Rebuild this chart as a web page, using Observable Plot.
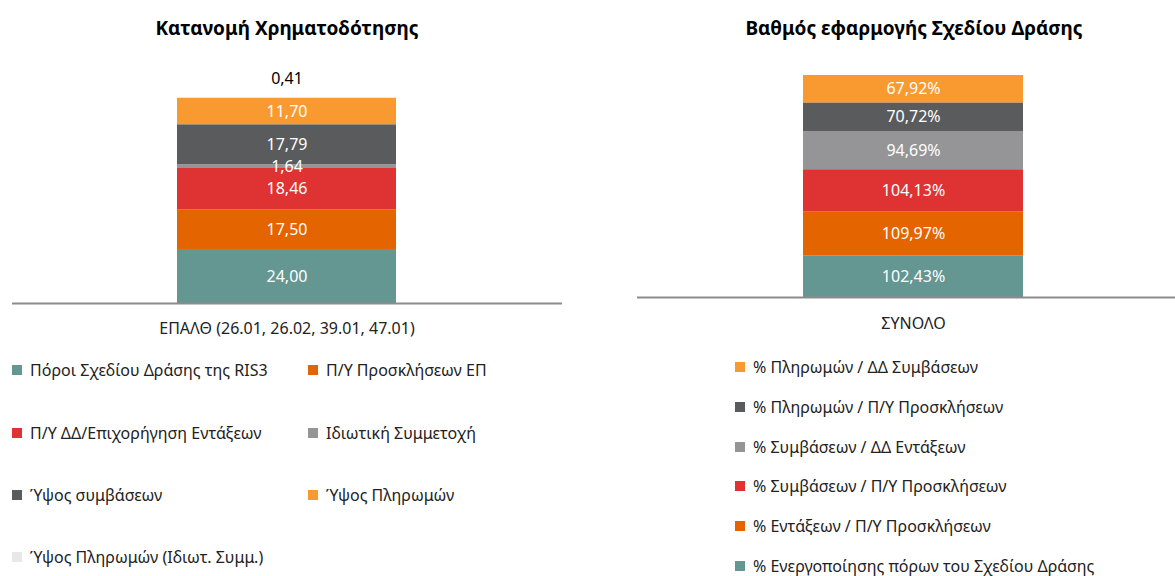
<!DOCTYPE html>
<html><head><meta charset="utf-8">
<script src="https://cdn.jsdelivr.net/npm/d3@7"></script>
<script src="https://cdn.jsdelivr.net/npm/@observablehq/plot@0.6"></script>
<style>
html,body{margin:0;padding:0;background:#fff;overflow:hidden;width:1175px;height:576px;font-family:"Noto Sans",sans-serif;}
#page{position:relative;width:1175px;height:576px;}
.title{position:absolute;font-weight:bold;font-size:19px;color:#000;white-space:nowrap;transform:translate(-50%,-50%);}
.chart{position:absolute;}
.leg{position:absolute;font-size:16px;line-height:18px;color:#222;white-space:nowrap;display:flex;align-items:center;transform:translateY(-50%);}
.leg span.sw{display:inline-block;width:10px;height:10px;margin-right:8px;}
</style></head>
<body><div id="page"></div>
<script>
// ---- Left chart data
const leftCategory = "ΕΠΑΛΘ (26.01, 26.02, 39.01, 47.01)";
const leftSeries = ["Πόροι Σχεδίου Δράσης της RIS3","Π/Υ Προσκλήσεων ΕΠ","Π/Υ ΔΔ/Επιχορήγηση Εντάξεων","Ιδιωτική Συμμετοχή","Ύψος συμβάσεων","Ύψος Πληρωμών","Ύψος Πληρωμών (Ιδιωτ. Συμμ.)"];
const leftValues = [24.00, 17.50, 18.46, 1.64, 17.79, 11.70, 0.41];
const leftColors = ["#649692","#e46400","#de3233","#959598","#5a5b5d","#f89a2f","#e8e8e8"];
const leftTitle = "Κατανομή Χρηματοδότησης";

// ---- Right chart data
const rightCategory = "ΣΥΝΟΛΟ";
const rightSeries = ["% Ενεργοποίησης πόρων του Σχεδίου Δράσης","% Εντάξεων / Π/Υ Προσκλήσεων","% Συμβάσεων / Π/Υ Προσκλήσεων","% Συμβάσεων / ΔΔ Εντάξεων","% Πληρωμών / Π/Υ Προσκλήσεων","% Πληρωμών / ΔΔ Συμβάσεων"];
const rightValues = [102.43, 109.97, 104.13, 94.69, 70.72, 67.92];
const rightColors = ["#649692","#e46400","#de3233","#959598","#5a5b5d","#f89a2f"];
const rightTitle = "Βαθμός εφαρμογής Σχεδίου Δράσης";

const fmt = v => d3.format(".2f")(v).replace(".", ",");
const font = '"Noto Sans", sans-serif';
const page = document.getElementById("page");

function addTitle(text, cx, cy){
  const d = document.createElement("div");
  d.className = "title"; d.textContent = text;
  d.style.left = cx + "px"; d.style.top = cy + "px";
  page.appendChild(d);
}

// Left
const leftData = leftSeries.map((s,i)=>({cat:leftCategory, series:s, value:leftValues[i], idx:i}));
const leftTotal = d3.sum(leftValues);
const lastIdx = leftValues.length - 1;
const leftPlot = Plot.plot({
  width: 575, height: 300,
  marginLeft: 12, marginRight: 13, marginTop: 47, marginBottom: 47,
  style: {fontFamily: font, fontSize: "16px", background: "transparent"},
  x: {domain:[leftCategory], padding: 0.4286, label: null},
  y: {domain:[0, leftTotal], axis: null},
  color: {domain: leftSeries, range: leftColors},
  marks: [
    Plot.barY(leftData, {x:"cat", y:"value", fill:"series", order:null}),
    Plot.ruleY([0], {stroke:"#8c8c8c", strokeWidth:2}),
    Plot.text(leftData.filter(d=>d.idx!==lastIdx), Plot.stackY({x:"cat", y:"value", order:null, text:d=>fmt(d.value), fill:"#fff", fontSize:16})),
    Plot.text(leftData.filter(d=>d.idx===lastIdx), {x:"cat", y:()=>leftTotal, text:d=>fmt(d.value), fill:"#000", fontSize:16, dy:-19}),
    Plot.axisX({tickSize:0, tickPadding:19, fontSize:16, fill:"#222", label:null})
  ]
});
leftPlot.classList.add("chart");
leftPlot.style.left = "0px"; leftPlot.style.top = "50px";
page.appendChild(leftPlot);
addTitle(leftTitle, 287, 28);

// Right
const rightData = rightSeries.map((s,i)=>({cat:rightCategory, series:s, value:rightValues[i]}));
const rightPlot = Plot.plot({
  width: 600, height: 300,
  marginLeft: 47, marginRight: 0, marginTop: 25, marginBottom: 53,
  style: {fontFamily: font, fontSize: "16px", background: "transparent"},
  x: {domain:[rightCategory], padding: 0.429, label: null},
  y: {domain:[0, d3.sum(rightValues)], axis: null},
  color: {domain: rightSeries, range: rightColors},
  marks: [
    Plot.barY(rightData, {x:"cat", y:"value", fill:"series", order:null}),
    Plot.ruleY([0], {stroke:"#8c8c8c", strokeWidth:2}),
    Plot.text(rightData, Plot.stackY({x:"cat", y:"value", order:null, text:d=>fmt(d.value)+"%", fill:"#fff", fontSize:16})),
    Plot.axisX({tickSize:0, tickPadding:20, fontSize:16, fill:"#222", label:null})
  ]
});
rightPlot.classList.add("chart");
rightPlot.style.left = "590px"; rightPlot.style.top = "50px";
page.appendChild(rightPlot);
addTitle(rightTitle, 914, 28);

// Legends
function addLegend(label, color, x, y){
  const d = document.createElement("div");
  d.className = "leg";
  d.style.left = x + "px"; d.style.top = y + "px";
  const sw = document.createElement("span"); sw.className = "sw"; sw.style.background = color;
  d.appendChild(sw);
  d.appendChild(document.createTextNode(label));
  page.appendChild(d);
}
const leftRows = [370, 433, 495, 557];
leftSeries.forEach((s,i)=>{
  const col = i % 2, row = Math.floor(i/2);
  addLegend(s, leftColors[i], col ? 308 : 12, leftRows[row]);
});
const rightOrder = d3.range(rightSeries.length).reverse();
rightOrder.forEach((i,k)=>{
  addLegend(rightSeries[i], rightColors[i], 735, 367 + 39.8*k);
});
</script></body></html>
